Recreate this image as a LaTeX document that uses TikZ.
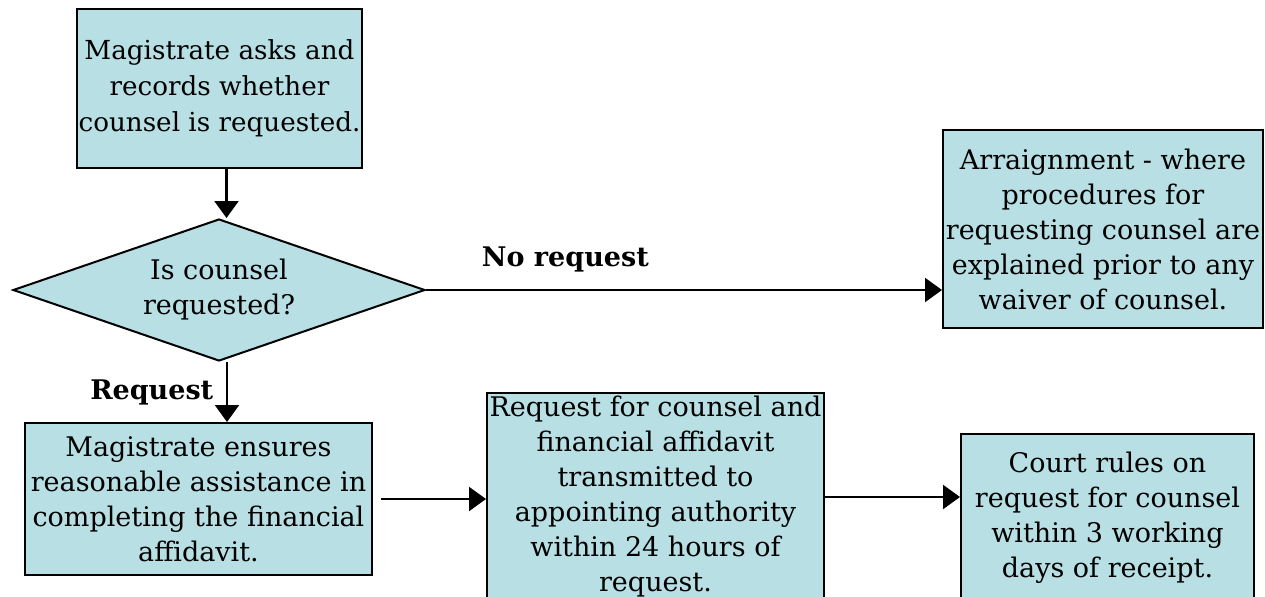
\documentclass[tikz,border=0pt]{standalone}
\usepackage{fontspec}
\setmainfont{DejaVu Serif}
\usetikzlibrary{shapes.geometric,arrows.meta}
\definecolor{boxfill}{RGB}{184,223,228}
\begin{document}
\begin{tikzpicture}[x=0.5pt,y=-0.5pt,
    box/.style={draw=black,line width=1pt,fill=boxfill,inner sep=0pt,align=center,
        font=\fontsize{13.5}{17.5}\selectfont},
    choice/.style={box,diamond,aspect=2.9},
    flow/.style={line width=1.1pt,-{Triangle[width=12pt,length=8.5pt]}},
    lbl/.style={font=\fontsize{13.5}{17.5}\selectfont\bfseries}]
    \clip (0,0) rectangle (1265,596);
    \node[box,font=\fontsize{13.1}{18}\selectfont,minimum width=142.5pt,minimum height=79.5pt] (ask) at (219.5,88.5)
        {Magistrate asks and\\records whether\\counsel is requested.};
    \node[choice,minimum width=206pt,minimum height=71pt] (dec) at (219,290)
        {Is counsel\\requested?};
    \node[box,minimum width=160pt,minimum height=99pt] (arr) at (1103,229)
        {Arraignment - where\\procedures for\\requesting counsel are\\explained prior to any\\waiver of counsel.};
    \node[box,minimum width=173.5pt,minimum height=76pt] (help) at (198.5,499)
        {Magistrate ensures\\reasonable assistance in\\completing the financial\\affidavit.};
    \node[box,minimum width=168.5pt,minimum height=104pt] (send) at (655.5,497)
        {Request for counsel and\\financial affidavit\\transmitted to\\appointing authority\\within 24 hours of\\request.};
    \node[box,minimum width=146.5pt,minimum height=84pt] (rule) at (1107.5,518)
        {Court rules on\\request for counsel\\within 3 working\\days of receipt.};
    % connectors
    \draw[flow] ([xshift=3.5pt]ask.south) -- ([xshift=3.5pt]ask.south |- dec.north);
    \draw[flow] (dec.east) -- (dec.east -| arr.west)
        node[lbl,pos=0.27,above=5pt] {No request};
    \draw[flow] ([xshift=4pt]dec.south) -- ([xshift=4pt]dec.south |- help.north)
        node[lbl,midway,left=3pt] {Request};
    \draw[flow] ([xshift=4pt]help.east) -- (help.east -| send.west);
    \draw[flow] (send.east) -- (send.east -| rule.west);
\end{tikzpicture}
\end{document}
